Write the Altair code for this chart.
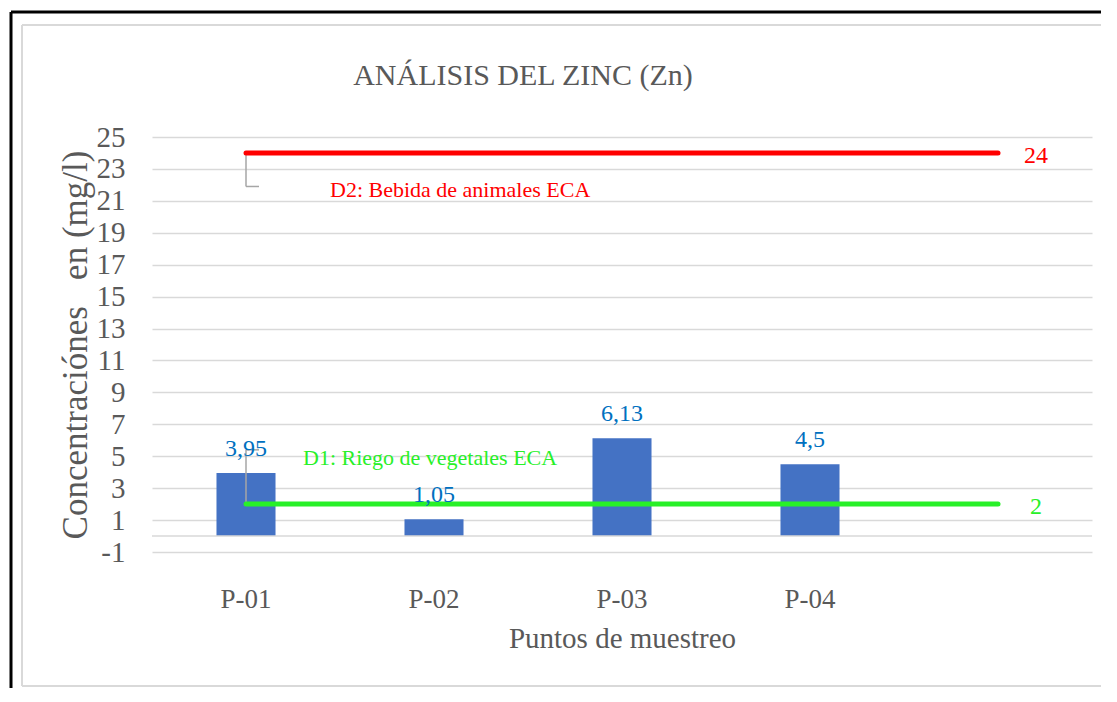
import altair as alt
import pandas as pd

# ---- data ----
categories = ["P-01", "P-02", "P-03", "P-04"]
values = [3.95, 1.05, 6.13, 4.5]
value_labels = ["3,95", "1,05", "6,13", "4,5"]
domain_slots = ["P-01", "P-02", "P-03", "P-04", "P-05"]  # 5th slot is empty in the original
y_ticks = [-1, 1, 3, 5, 7, 9, 11, 13, 15, 17, 19, 21, 23, 25]

limit_names = ["D2: Bebida de animales ECA", "D1: Riego de vegetales ECA"]
limit_values = [24, 2]
limit_value_labels = ["24", "2"]
limit_colors = ["#FF0000", "#28F028"]
limit_label_y = [21.7, 4.9]      # where the series-name labels sit
limit_label_dx = [84, 57]
leader_top = [24, 5.4]
leader_bottom = [21.9, 2]
leader_corner = [21.9, 5.4]

FONT = "Liberation Serif"
GREY_TXT = "#595959"

bars_df = pd.DataFrame({"cat": categories, "val": values, "lab": value_labels})
lim_df = pd.DataFrame({
    "name": limit_names, "val": limit_values, "lab": limit_value_labels,
    "color": limit_colors, "ly": limit_label_y, "ldx": limit_label_dx,
    "start": [domain_slots[0]] * 2, "end": [domain_slots[-1]] * 2,
    "lt": leader_top, "lb": leader_bottom, "lc": leader_corner,
})

xscale = alt.Scale(domain=domain_slots, paddingInner=0.686, paddingOuter=0.343)
yscale = alt.Scale(domain=[-1, 25], nice=False, zero=False)

x_axis = alt.Axis(
    labelExpr="datum.value == 'P-05' ? '' : datum.value",
    labelFont=FONT, labelFontSize=27, labelColor=GREY_TXT, labelPadding=34,
    domain=False, ticks=False, grid=False, labelAngle=0,
    title="Puntos de muestreo", titleFont=FONT, titleFontSize=29,
    titleFontWeight="normal", titleColor=GREY_TXT, titlePadding=12,
)
y_axis = alt.Axis(
    values=y_ticks, tickCount=30, grid=True, gridColor="#D9D9D9", gridWidth=1.5,
    domain=False, ticks=False, labelOverlap=False,
    labelExpr="'' + datum.value",
    labelFont=FONT, labelFontSize=29, labelColor=GREY_TXT, labelPadding=27,
    title="Concentraciónes\u00a0\u00a0 en (mg/l)", titleFont=FONT, titleFontSize=35,
    titleFontWeight="normal", titleColor=GREY_TXT, titlePadding=3,
)

frame_df = pd.DataFrame({"k": [0]})

# chart frame: black outer border and grey inner border (right edges lie beyond the page)
outer_top = alt.Chart(frame_df).mark_rule(color="black", strokeWidth=3).encode(
    x=alt.value(-141), x2=alt.value(1300), y=alt.value(-125)
)
outer_left = alt.Chart(frame_df).mark_rule(color="black", strokeWidth=3).encode(
    x=alt.value(-141), y=alt.value(-125), y2=alt.value(800)
)
inner_top = alt.Chart(frame_df).mark_rule(color="#D9D9D9", strokeWidth=2).encode(
    x=alt.value(-130), x2=alt.value(1300), y=alt.value(-112)
)
inner_left = alt.Chart(frame_df).mark_rule(color="#D9D9D9", strokeWidth=2).encode(
    x=alt.value(-130), y=alt.value(-112), y2=alt.value(549)
)
inner_bottom = alt.Chart(frame_df).mark_rule(color="#D9D9D9", strokeWidth=2).encode(
    x=alt.value(-130), x2=alt.value(1300), y=alt.value(549)
)

title_df = pd.DataFrame({"t": ["ANÁLISIS DEL ZINC (Zn)"]})
title = alt.Chart(title_df).mark_text(
    font=FONT, fontSize=30, color=GREY_TXT, align="center", baseline="middle"
).encode(x=alt.value(371), y=alt.value(-61), text="t:N")

bars = alt.Chart(bars_df).mark_bar(color="#4472C4").encode(
    x=alt.X("cat:N", scale=xscale, axis=x_axis, sort=domain_slots),
    y=alt.Y("val:Q", scale=yscale, axis=y_axis),
    y2=alt.datum(0),
)

zero_line = alt.Chart(frame_df).mark_rule(color="#D9D9D9", strokeWidth=1.5).encode(
    y=alt.datum(0, scale=yscale), x=alt.value(0), x2=alt.value(940)
)

bar_text = alt.Chart(bars_df).mark_text(
    font=FONT, fontSize=24, color="#0070C0", baseline="bottom", dy=-12
).encode(
    x=alt.X("cat:N", scale=xscale, sort=domain_slots),
    y=alt.Y("val:Q", scale=yscale),
    text="lab:N",
)

lines = alt.Chart(lim_df).mark_rule(strokeWidth=5, strokeCap="round").encode(
    x=alt.X("start:N", scale=xscale, sort=domain_slots),
    x2="end:N",
    y=alt.Y("val:Q", scale=yscale),
    color=alt.Color("color:N", scale=None),
)

leader_v = alt.Chart(lim_df).mark_rule(color="#A6A6A6", strokeWidth=1.5).encode(
    x=alt.X("start:N", scale=xscale, sort=domain_slots),
    y=alt.Y("lt:Q", scale=yscale),
    y2="lb:Q",
)
leader_h = alt.Chart(lim_df).mark_rule(color="#A6A6A6", strokeWidth=1.5, x2Offset=13).encode(
    x=alt.X("start:N", scale=xscale, sort=domain_slots),
    x2="start:N",
    y=alt.Y("lc:Q", scale=yscale),
)

d2 = alt.Chart(lim_df).transform_filter("datum.val > 10").mark_text(
    font=FONT, fontSize=22, align="left", baseline="middle", dx=limit_label_dx[0]
).encode(
    x=alt.X("start:N", scale=xscale, sort=domain_slots),
    y=alt.Y("ly:Q", scale=yscale),
    text="name:N",
    color=alt.Color("color:N", scale=None),
)
d1 = alt.Chart(lim_df).transform_filter("datum.val < 10").mark_text(
    font=FONT, fontSize=22, align="left", baseline="middle", dx=limit_label_dx[1]
).encode(
    x=alt.X("start:N", scale=xscale, sort=domain_slots),
    y=alt.Y("ly:Q", scale=yscale),
    text="name:N",
    color=alt.Color("color:N", scale=None),
)

val_text = alt.Chart(lim_df).mark_text(
    font=FONT, fontSize=24, align="center", baseline="middle", dx=38, dy=3
).encode(
    x=alt.X("end:N", scale=xscale, sort=domain_slots),
    y=alt.Y("val:Q", scale=yscale),
    text="lab:N",
    color=alt.Color("color:N", scale=None),
)

chart = alt.layer(
    outer_top, outer_left, inner_top, inner_left, inner_bottom, title, bars, zero_line,
    leader_v, leader_h, lines, bar_text, d2, d1, val_text
).properties(
    width=940, height=415,
    background="white",
    autosize=alt.AutoSizeParams(type="none"),
    padding={"left": 144, "top": 129, "right": 9, "bottom": 136},
).configure_view(stroke=None)

chart.save("out.html", embed_options={"renderer": "svg", "actions": False})
